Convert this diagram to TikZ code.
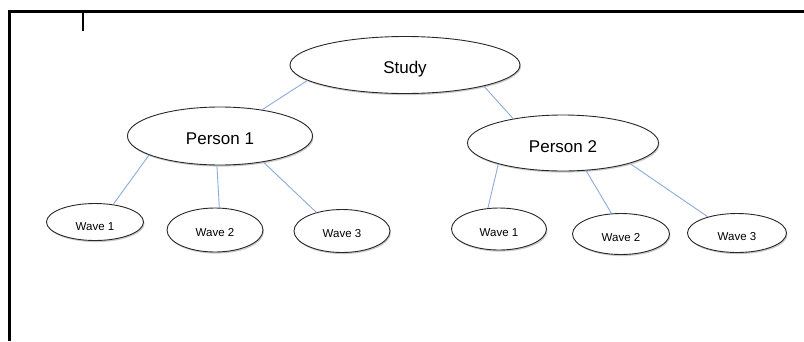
\documentclass[tikz,border=0pt]{standalone}
\usepackage{fontspec}
\setmainfont{Liberation Sans}
\usetikzlibrary{shapes.geometric,shadows}
\definecolor{linkblue}{RGB}{140,170,218}
\definecolor{rim}{RGB}{40,40,40}
\tikzset{
  x=1pt, y=-1pt,
  oval/.style={ellipse, draw=rim, line width=0.9pt, fill=white, inner sep=0pt, text depth=0pt,
    drop shadow={shadow xshift=1pt, shadow yshift=-1.6pt, opacity=0.35, fill=black!60}},
  big/.style={oval, font=\fontsize{17}{19}\selectfont},
  small/.style={oval, font=\fontsize{11.5}{13}\selectfont},
  % text height sets how far the baseline sits below the node centre
  drop/.style={text height=#1},
  link/.style={draw=linkblue, line width=0.9pt},
  frame/.style={line width=2.2pt, black}
}
\begin{document}
\begin{tikzpicture}
\useasboundingbox (0,0) rectangle (804,341);
% page frame and the small tick mark
\draw[frame] (9.5,341) -- (9.5,11.5) -- (804,11.5);
\draw[frame] (83,11.5) -- (83,31);

% top level
\node[big, drop=16.5pt, minimum width=230, minimum height=57] (study) at (405,65) {Study};
% persons
\node[big, drop=16.5pt, minimum width=185, minimum height=58] (p1) at (220,136) {Person 1};
\node[big, drop=18pt, minimum width=191, minimum height=56] (p2) at (563,143) {Person 2};
% waves of person 1
\node[small, drop=17pt, minimum width=97, minimum height=37] (w11) at (95,222) {Wave 1};
\node[small, drop=12.5pt, minimum width=96, minimum height=44] (w12) at (215,230) {Wave 2};
\node[small, drop=12.5pt, minimum width=96, minimum height=43] (w13) at (342,231) {Wave 3};
% waves of person 2
\node[small, drop=14pt, minimum width=95, minimum height=42] (w21) at (499,229) {Wave 1};
\node[small, drop=14pt, minimum width=97, minimum height=41] (w22) at (621,234) {Wave 2};
\node[small, drop=14pt, minimum width=99, minimum height=39] (w23) at (737,233) {Wave 3};

% connectors
\draw[link] (study.189) -- (p1.32);
\draw[link] (study.345) -- (p2.154);
\draw[link] (p1.195) -- (w11.44);
\draw[link] (p1.264) -- (w12.79);
\draw[link] (p1.329) -- (w13.144);
\draw[link] (p2.198) -- (w21.118);
\draw[link] (p2.310) -- (w22.115);
\draw[link] (p2.343) -- (w23.151);
\end{tikzpicture}
\end{document}
